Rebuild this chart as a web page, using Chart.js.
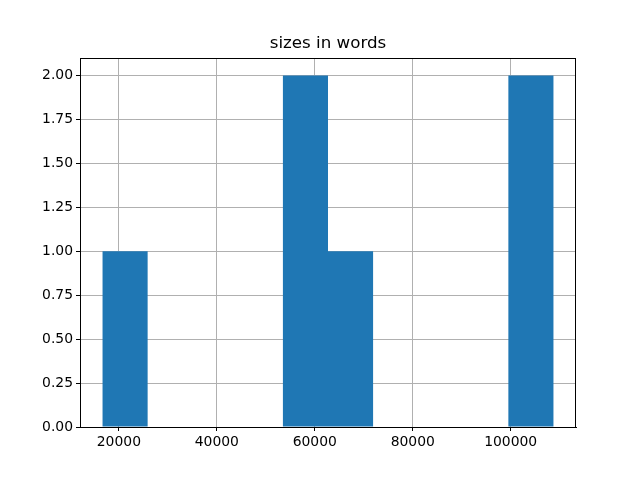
<!DOCTYPE html>
<html>
<head>
<meta charset="utf-8">
<script src="https://cdn.jsdelivr.net/npm/chart.js@4/dist/chart.umd.min.js"></script>
<style>
  body { margin: 0; background: #fff; }
</style>
</head>
<body>
<canvas id="histChart" width="640" height="480"></canvas>
<script>
    'use strict';

    // histogram of document sizes, 10 bins
    var binEdges = [16665, 25872, 35079, 44287, 53494, 62701, 71908, 81115, 90323, 99530, 108737];
    var binCounts = [1, 0, 0, 0, 2, 1, 0, 0, 0, 2];
    var xTicks = [20000, 40000, 60000, 80000, 100000];
    var yTicks = [0, 0.25, 0.5, 0.75, 1, 1.25, 1.5, 1.75, 2];

    var histData = binCounts.map(function (c, i) {
        return { x: (binEdges[i] + binEdges[i + 1]) / 2, y: c };
    });

    var span = binEdges[binEdges.length - 1] - binEdges[0];
    var xMin = binEdges[0] - span * 0.05;
    var xMax = binEdges[binEdges.length - 1] + span * 0.05;

    var tickFont = { family: 'DejaVu Sans', size: 13.9 };

    // top and right spines
    var spines = {
        id: 'spines',
        afterDraw: function (chart) {
            var a = chart.chartArea;
            var ctx = chart.ctx;
            ctx.save();
            ctx.strokeStyle = '#000';
            ctx.lineWidth = 1;
            ctx.beginPath();
            ctx.moveTo(a.left, Math.round(a.top) + 0.5);
            ctx.lineTo(a.right, Math.round(a.top) + 0.5);
            ctx.moveTo(Math.round(a.right) - 0.5, a.top);
            ctx.lineTo(Math.round(a.right) - 0.5, a.bottom);
            ctx.stroke();
            ctx.restore();
        }
    };

    new Chart(document.getElementById('histChart').getContext('2d'), {
        type: 'bar',
        data: {
            datasets: [{
                data: histData,
                backgroundColor: '#1f77b4',
                borderWidth: 0,
                inflateAmount: 0,
                barPercentage: 1,
                categoryPercentage: 1
            }]
        },
        options: {
            responsive: false,
            animation: false,
            layout: { padding: { left: 0, right: 64, top: 0, bottom: 0 } },
            plugins: {
                legend: { display: false },
                tooltip: { enabled: false },
                title: {
                    display: true,
                    text: 'sizes in words',
                    fullSize: false,
                    color: '#000',
                    font: { family: 'DejaVu Sans', size: 16.7, weight: 'normal', lineHeight: '20px' },
                    padding: { top: 34, bottom: 4 }
                }
            },
            scales: {
                x: {
                    type: 'linear',
                    min: xMin,
                    max: xMax,
                    offset: false,
                    z: 1,
                    afterBuildTicks: function (scale) {
                        scale.ticks = xTicks.map(function (v) { return { value: v }; });
                    },
                    afterFit: function (scale) { scale.height = 53; },
                    grid: { offset: false, color: '#b0b0b0', lineWidth: 1, tickColor: '#000', tickLength: 4 },
                    border: { display: true, color: '#000', width: 1 },
                    ticks: {
                        color: '#000',
                        font: tickFont,
                        padding: 3,
                        maxRotation: 0,
                        autoSkip: false,
                        callback: function (v) { return String(v); }
                    }
                },
                y: {
                    min: 0,
                    max: 2.1,
                    z: 1,
                    afterBuildTicks: function (scale) {
                        scale.ticks = yTicks.map(function (v) { return { value: v }; });
                    },
                    afterFit: function (scale) { scale.width = 80; },
                    grid: { color: '#b0b0b0', lineWidth: 1, tickColor: '#000', tickLength: 4 },
                    border: { display: true, color: '#000', width: 1 },
                    ticks: {
                        color: '#000',
                        font: tickFont,
                        padding: 3,
                        autoSkip: false,
                        callback: function (v) { return Number(v).toFixed(2); }
                    }
                }
            }
        },
        plugins: [spines]
    });
</script>
</body>
</html>
